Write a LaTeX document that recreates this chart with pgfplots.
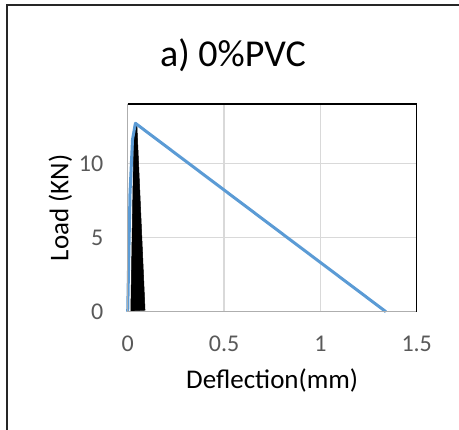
\documentclass[border=0pt]{standalone}
\usepackage{fontspec}
\setmainfont{Carlito}
\usepackage{pgfplots}
\pgfplotsset{compat=1.18}
\definecolor{excelblue}{HTML}{5B9BD5}
\definecolor{ticktext}{HTML}{595959}
\definecolor{gridgray}{HTML}{D9D9D9}

\begin{document}
\begin{tikzpicture}[x=1pt,y=-1pt]
    \useasboundingbox (0,0) rectangle (459,430);
    % outer chart frame (only top and left edges visible)
    \draw[line width=1.5pt, black!85] (7,430) -- (7,5) -- (459,5);
    \node[font=\fontsize{38}{44}\selectfont] at (233,55) {a) 0\%PVC};

    \begin{axis}[
        at={(127.7pt,-311.7pt)}, anchor=south west,
        scale only axis,
        width=289pt, height=207.7pt,
        xmin=0, xmax=1.5, ymin=0, ymax=14,
        xtick={0,0.5,1,1.5},
        ytick={0,5,10},
        grid=major,
        major grid style={gridgray, line width=1.2pt},
        axis line style={draw=none},
        tick style={draw=none},
        ticklabel style={text=ticktext, font=\fontsize{24}{28}\selectfont},
        /pgf/number format/assume math mode=true,
        xticklabel style={yshift=-21pt},
        yticklabel style={xshift=-21pt},
        xlabel={Deflection(mm)},
        ylabel={Load (KN)},
        label style={font=\fontsize{27}{32}\selectfont},
        xlabel style={yshift=-10pt},
        ylabel style={at={(axis description cs:0,0.5)}, anchor=south, yshift=52pt},
        clip=false,
    ]
        % black filled region near the origin
        \addplot[draw=black, fill=black, line width=0.5pt] coordinates {
            (0.016,0.05) (0.033,12.5) (0.048,12.5) (0.09,0.1) (0.016,0.05)
        };
        % load-deflection curve
        \addplot[excelblue, line width=3pt, line join=round] coordinates {
            (0,0) (0.012,8) (0.025,11.6) (0.04,12.7) (1.34,0)
        };
    \end{axis}
    % axis frame: left and bottom grey, top and right black
    \draw[gridgray!80!black, line width=1.2pt] (127.7,104) -- (127.7,311.7) -- (416.7,311.7);
    \draw[black, line width=1.5pt] (127.7,104) -- (416.7,104) -- (416.7,311.7);
\end{tikzpicture}
\end{document}
